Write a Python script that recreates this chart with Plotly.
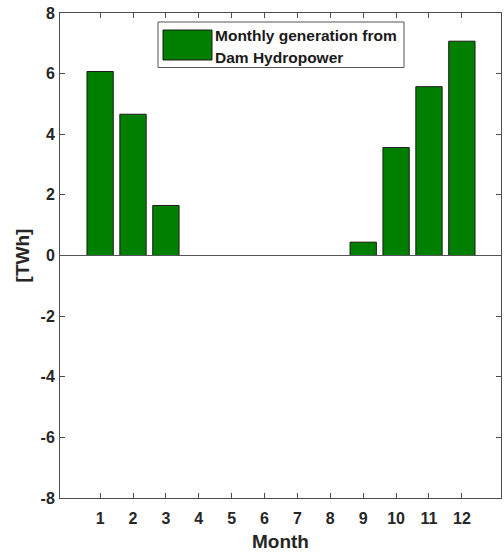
import plotly.graph_objects as go

# Monthly dam hydropower generation [TWh]
months = [1, 2, 3, 4, 5, 6, 7, 8, 9, 10, 11, 12]
generation_twh = [6.07, 4.66, 1.65, 0, 0, 0, 0, 0, 0.44, 3.56, 5.57, 7.07]
y_ticks = [-8, -6, -4, -2, 0, 2, 4, 6, 8]

BAR_GREEN = "#007F00"
AXIS_GRAY = "#4d4d4d"
FONT = "Liberation Sans, Arial, sans-serif"

W, H = 504, 556
M_L, M_R, M_T, M_B = 60, 3, 13, 58
PLOT_W = W - M_L - M_R
PLOT_H = H - M_T - M_B


def px_x(px):
    """Figure pixel column -> paper x."""
    return (px - M_L) / PLOT_W


def px_y(px):
    """Figure pixel row (from top) -> paper y."""
    return (H - M_B - px) / PLOT_H


fig = go.Figure()
fig.add_trace(go.Bar(
    x=months,
    y=generation_twh,
    width=0.8,
    marker=dict(color=BAR_GREEN, line=dict(color="#1a1a1a", width=1)),
    name="Monthly generation from Dam Hydropower",
    showlegend=False,
))

# baseline at zero across the whole axes
fig.add_shape(type="line", xref="paper", yref="y", x0=0, x1=1, y0=0, y1=0,
              line=dict(color="#555555", width=1))

# legend box
fig.add_shape(type="rect", xref="paper", yref="paper",
              x0=px_x(158), x1=px_x(404), y0=px_y(67.5), y1=px_y(22),
              line=dict(color="#555555", width=1), fillcolor="white", layer="above")
fig.add_shape(type="rect", xref="paper", yref="paper",
              x0=px_x(163), x1=px_x(212), y0=px_y(60), y1=px_y(30),
              line=dict(color="#1a1a1a", width=1), fillcolor=BAR_GREEN, layer="above")
for line_text, row in [("Monthly generation from", 35.5), ("Dam Hydropower", 57)]:
    fig.add_annotation(xref="paper", yref="paper", x=px_x(213), y=px_y(row),
                       xanchor="left", yanchor="middle", showarrow=False,
                       text=f"<b>{line_text}</b>",
                       font=dict(family=FONT, size=15.5, color="#1a1a1a"))

axis_common = dict(
    showline=True, linecolor=AXIS_GRAY, linewidth=1, mirror="ticks",
    ticks="inside", ticklen=5, tickcolor=AXIS_GRAY, showgrid=False, zeroline=False,
    tickfont=dict(family=FONT, size=16, color="#262626"),
)

fig.update_layout(
    width=W, height=H,
    margin=dict(l=M_L, r=M_R, t=M_T, b=M_B),
    paper_bgcolor="white", plot_bgcolor="white",
    xaxis=dict(range=[-0.22, 13.19], tickvals=months,
               ticktext=[f"<b>{m}</b>" for m in months],
               ticklabelstandoff=6,
               title=dict(text="<b>Month</b>", standoff=8,
                          font=dict(family=FONT, size=19, color="#262626")),
               **axis_common),
    yaxis=dict(range=[-8, 8], tickvals=y_ticks,
               ticktext=[f"<b>{v}</b>" for v in y_ticks],
               ticklabelstandoff=1,
               title=dict(text="<b>[TWh]</b>", standoff=5,
                          font=dict(family=FONT, size=19, color="#262626")),
               **axis_common),
)

fig.write_html("out.html")
